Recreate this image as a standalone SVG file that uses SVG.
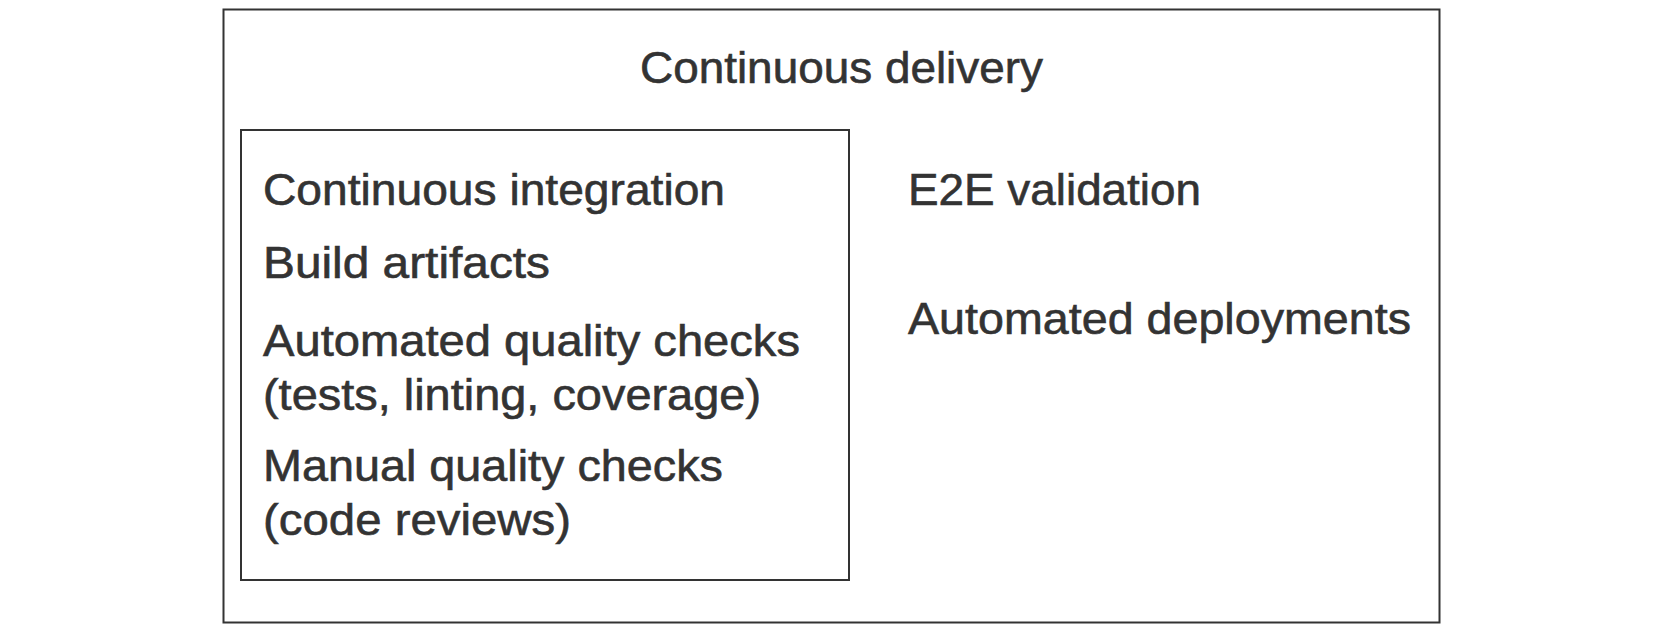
<svg xmlns="http://www.w3.org/2000/svg" width="1665" height="631" viewBox="0 0 1665 631">
  <style>
    .box { fill: none; stroke: #333; stroke-width: 2; }
    .label { font-family: "Liberation Sans", Arial, sans-serif; font-size: 44px; fill: #333; stroke: #333; stroke-width: 0.6; }
  </style>
  <rect x="0" y="0" width="1665" height="631" fill="#fff"/>

  <!-- Outer container: continuous delivery -->
  <g id="continuous-delivery">
    <rect class="box" x="223.5" y="9.5" width="1216" height="613"/>
    <text class="label" x="640" y="83" textLength="403" lengthAdjust="spacingAndGlyphs">Continuous delivery</text>
    <text class="label" x="908" y="205" textLength="293" lengthAdjust="spacingAndGlyphs">E2E validation</text>
    <text class="label" x="908" y="334" textLength="503" lengthAdjust="spacingAndGlyphs">Automated deployments</text>
  </g>

  <!-- Inner container: continuous integration -->
  <g id="continuous-integration">
    <rect class="box" x="241" y="130" width="608" height="450"/>
    <text class="label" x="263" y="205" textLength="462" lengthAdjust="spacingAndGlyphs">Continuous integration</text>
    <text class="label" x="263" y="278" textLength="287" lengthAdjust="spacingAndGlyphs">Build artifacts</text>
    <text class="label" x="263" y="356" textLength="537" lengthAdjust="spacingAndGlyphs">Automated quality checks</text>
    <text class="label" x="263" y="410" textLength="498" lengthAdjust="spacingAndGlyphs">(tests, linting, coverage)</text>
    <text class="label" x="263" y="481" textLength="460" lengthAdjust="spacingAndGlyphs">Manual quality checks</text>
    <text class="label" x="263" y="535" textLength="308" lengthAdjust="spacingAndGlyphs">(code reviews)</text>
  </g>

  <!-- No connectors in this diagram -->
  <g id="connectors"/>
</svg>
